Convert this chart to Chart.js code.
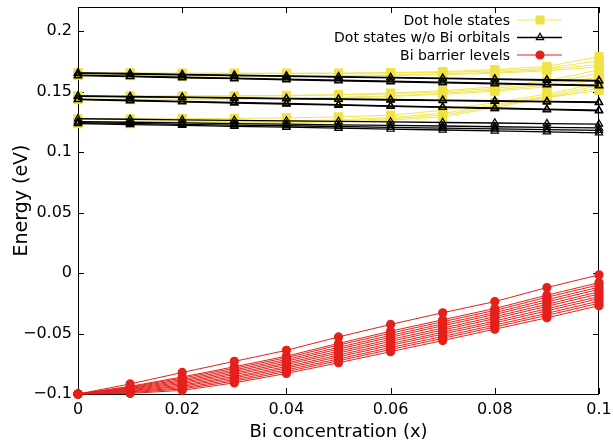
<!DOCTYPE html>
<html>
<head>
<meta charset="utf-8">
<script src="https://cdn.jsdelivr.net/npm/chart.js@4/dist/chart.umd.min.js"></script>
<style>
html,body{margin:0;padding:0;background:#fff;}
#wrap{position:relative;width:613px;height:444px;}
</style>
</head>
<body>
<div id="wrap"><canvas id="c" width="613" height="444"></canvas></div>
<script>
// ---- data ----
const xValues = [0, 0.01, 0.02, 0.03, 0.04, 0.05, 0.06, 0.07, 0.08, 0.09, 0.1];
const xTickValues = [0, 0.02, 0.04, 0.06, 0.08, 0.1];
const xTickLabels = ["0", "0.02", "0.04", "0.06", "0.08", "0.1"];
const yTickValues = [-0.1, -0.05, 0, 0.05, 0.1, 0.15, 0.2];
const yTickLabels = ["\u22120.1", "\u22120.05", "0", "0.05", "0.1", "0.15", "0.2"];
const seriesNames = ["Dot hole states", "Dot states w/o Bi orbitals", "Bi barrier levels"];

// Dot hole states (with Bi orbitals)
const holeStates = [
  [0.1656,0.1655,0.1654,0.1653,0.1653,0.1654,0.1658,0.1666,0.1683,0.1708,0.1790],
  [0.1652,0.1651,0.1650,0.1649,0.1649,0.1650,0.1653,0.1659,0.1671,0.1693,0.1755],
  [0.1636,0.1635,0.1634,0.1633,0.1633,0.1634,0.1638,0.1646,0.1660,0.1682,0.1725],
  [0.1632,0.1631,0.1630,0.1629,0.1629,0.1630,0.1633,0.1640,0.1653,0.1672,0.1705],
  [0.1465,0.1465,0.1465,0.1466,0.1469,0.1476,0.1488,0.1508,0.1540,0.1590,0.1680],
  [0.1462,0.1462,0.1462,0.1463,0.1466,0.1472,0.1482,0.1499,0.1527,0.1570,0.1650],
  [0.1438,0.1438,0.1439,0.1441,0.1445,0.1453,0.1466,0.1486,0.1514,0.1555,0.1620],
  [0.1434,0.1434,0.1435,0.1437,0.1441,0.1448,0.1460,0.1478,0.1504,0.1540,0.1595],
  [0.1276,0.1276,0.1277,0.1279,0.1283,0.1291,0.1306,0.1345,0.1410,0.1480,0.1570],
  [0.1252,0.1252,0.1253,0.1255,0.1259,0.1267,0.1287,0.1320,0.1390,0.1465,0.1550],
  [0.1243,0.1243,0.1244,0.1246,0.1250,0.1257,0.1276,0.1305,0.1380,0.1455,0.1530],
  [0.1236,0.1236,0.1237,0.1239,0.1242,0.1249,0.1266,0.1290,0.1370,0.1450,0.1510]
];

// Dot states without Bi orbitals
const noBiStates = [
  [0.1656,0.1650,0.1643,0.1637,0.1631,0.1625,0.1618,0.1612,0.1606,0.1599,0.1593],
  [0.1652,0.1646,0.1639,0.1633,0.1626,0.1620,0.1614,0.1607,0.1601,0.1594,0.1588],
  [0.1636,0.1628,0.1619,0.1611,0.1603,0.1595,0.1586,0.1578,0.1570,0.1561,0.1553],
  [0.1632,0.1624,0.1615,0.1607,0.1598,0.1590,0.1582,0.1573,0.1565,0.1556,0.1548],
  [0.1465,0.1460,0.1455,0.1450,0.1445,0.1440,0.1435,0.1430,0.1425,0.1420,0.1415],
  [0.1462,0.1457,0.1452,0.1446,0.1441,0.1436,0.1431,0.1426,0.1420,0.1415,0.1410],
  [0.1438,0.1429,0.1420,0.1411,0.1402,0.1393,0.1383,0.1374,0.1365,0.1356,0.1347],
  [0.1434,0.1425,0.1416,0.1406,0.1397,0.1388,0.1379,0.1370,0.1360,0.1351,0.1342],
  [0.1276,0.1272,0.1267,0.1263,0.1258,0.1254,0.1250,0.1245,0.1241,0.1236,0.1232],
  [0.1252,0.1247,0.1242,0.1236,0.1231,0.1226,0.1221,0.1216,0.1210,0.1205,0.1200],
  [0.1243,0.1237,0.1230,0.1224,0.1218,0.1212,0.1205,0.1199,0.1193,0.1186,0.1180],
  [0.1236,0.1228,0.1221,0.1213,0.1206,0.1198,0.1190,0.1183,0.1175,0.1168,0.1160]
];

// Bi barrier levels
const barrierLevels = [
  [-0.1,-0.0917,-0.0822,-0.0730,-0.0639,-0.0528,-0.0425,-0.0328,-0.0236,-0.0120,-0.0015],
  [-0.1,-0.0937,-0.0859,-0.0775,-0.0687,-0.0582,-0.0481,-0.0386,-0.0293,-0.0183,-0.0079],
  [-0.1,-0.0942,-0.0869,-0.0787,-0.0700,-0.0596,-0.0497,-0.0402,-0.0309,-0.0200,-0.0097],
  [-0.1,-0.0948,-0.0881,-0.0801,-0.0715,-0.0614,-0.0515,-0.0420,-0.0327,-0.0220,-0.0117],
  [-0.1,-0.0954,-0.0892,-0.0814,-0.0729,-0.0629,-0.0531,-0.0436,-0.0343,-0.0238,-0.0135],
  [-0.1,-0.0960,-0.0903,-0.0828,-0.0744,-0.0646,-0.0549,-0.0455,-0.0361,-0.0258,-0.0155],
  [-0.1,-0.0965,-0.0914,-0.0840,-0.0757,-0.0661,-0.0565,-0.0471,-0.0377,-0.0275,-0.0173],
  [-0.1,-0.0972,-0.0926,-0.0855,-0.0773,-0.0678,-0.0583,-0.0489,-0.0396,-0.0295,-0.0194],
  [-0.1,-0.0977,-0.0936,-0.0867,-0.0786,-0.0693,-0.0598,-0.0505,-0.0412,-0.0313,-0.0211],
  [-0.1,-0.0983,-0.0948,-0.0881,-0.0801,-0.0710,-0.0616,-0.0524,-0.0430,-0.0333,-0.0232],
  [-0.1,-0.0989,-0.0958,-0.0894,-0.0815,-0.0725,-0.0632,-0.0540,-0.0446,-0.0350,-0.0250],
  [-0.1,-0.0995,-0.0970,-0.0908,-0.0830,-0.0742,-0.0650,-0.0558,-0.0464,-0.0370,-0.0270]
];

// ---- styles ----
const FONT = "'DejaVu Sans', sans-serif";
const YELLOW = "#efe343";
const BLACK = "#000000";
const RED = "#e3211c";

const styles = [
  {color: YELLOW, lineColor: "rgba(239,227,67,0.9)", point: "rect", radius: 5.6, fill: YELLOW, lw: 1, order: 3},
  {color: BLACK, lineColor: BLACK, point: "triangle", radius: 4.2, fill: "rgba(0,0,0,0)", lw: 1.3, order: 2},
  {color: RED, lineColor: RED, point: "circle", radius: 4, fill: RED, lw: 1, order: 1}
];

function makeSets(groupIdx, rows) {
  const s = styles[groupIdx];
  return rows.map((row, i) => ({
    label: seriesNames[groupIdx],
    data: row.map((v, j) => ({x: xValues[j], y: v})),
    borderColor: s.lineColor,
    backgroundColor: s.fill,
    pointBorderColor: s.color,
    pointBackgroundColor: s.fill,
    pointStyle: s.point,
    pointRadius: s.radius,
    pointBorderWidth: 1.2,
    borderWidth: s.lw,
    tension: 0,
    clip: false,
    order: s.order
  }));
}

const datasets = [
  ...makeSets(0, holeStates),
  ...makeSets(1, noBiStates),
  ...makeSets(2, barrierLevels)
];

// frame + inward ticks
const framePlugin = {
  id: 'frame',
  beforeDatasetsDraw(chart) {
    const {ctx, chartArea: a, scales} = chart;
    ctx.save();
    ctx.strokeStyle = '#000';
    ctx.lineWidth = 1;
    ctx.strokeRect(Math.round(a.left) + 0.5, Math.round(a.top) + 0.5, Math.round(a.right - a.left) - 1, Math.round(a.bottom - a.top));
    const L = 6;
    ctx.beginPath();
    xTickValues.forEach(v => {
      const px = Math.round(scales.x.getPixelForValue(v)) + 0.5;
      ctx.moveTo(px, a.bottom); ctx.lineTo(px, a.bottom - L);
      ctx.moveTo(px, a.top); ctx.lineTo(px, a.top + L);
    });
    yTickValues.forEach(v => {
      const py = Math.round(scales.y.getPixelForValue(v)) + 0.5;
      ctx.moveTo(a.left, py); ctx.lineTo(a.left + L, py);
      ctx.moveTo(a.right, py); ctx.lineTo(a.right - L, py);
    });
    ctx.stroke();
    ctx.restore();
  }
};

// custom legend (text right aligned, sample to the right)
const legendPlugin = {
  id: 'gpLegend',
  afterDatasetsDraw(chart) {
    const {ctx} = chart;
    const textRight = 510, lineL = 517, lineR = 562, mx = 540;
    const rows = [20, 37.5, 55];
    ctx.save();
    ctx.font = "14px " + FONT;
    ctx.textAlign = 'right';
    ctx.textBaseline = 'middle';
    seriesNames.forEach((name, i) => {
      const s = styles[i];
      const y = rows[i];
      ctx.fillStyle = '#000';
      ctx.fillText(name, textRight, y + 1);
      ctx.strokeStyle = s.lineColor;
      ctx.lineWidth = s.lw;
      ctx.beginPath(); ctx.moveTo(lineL, y); ctx.lineTo(lineR, y); ctx.stroke();
      ctx.fillStyle = s.fill;
      ctx.strokeStyle = s.color;
      ctx.lineWidth = 1.2;
      Chart.helpers.drawPoint(ctx, {pointStyle: s.point, radius: s.radius, borderWidth: 1.2}, mx, y);
    });
    ctx.restore();
  }
};

new Chart(document.getElementById('c'), {
  type: 'line',
  data: {datasets},
  options: {
    responsive: false,
    animation: false,
    events: [],
    layout: {padding: {left: 0, right: 14, top: 7, bottom: 0}},
    plugins: {legend: {display: false}, tooltip: {enabled: false}},
    scales: {
      x: {
        type: 'linear', min: 0, max: 0.1,
        grid: {display: false, drawTicks: false},
        border: {display: false},
        afterBuildTicks: s => { s.ticks = xTickValues.map(v => ({value: v})); },
        afterFit: s => { s.height = 50; s.paddingLeft = 0; s.paddingRight = 0; },
        ticks: {
          padding: 6, color: '#000', maxRotation: 0, autoSkip: false,
          font: {family: FONT, size: 16},
          callback: v => { const i = xTickValues.findIndex(t => Math.abs(t - v) < 1e-9); return i >= 0 ? xTickLabels[i] : ''; }
        },
        title: {display: true, text: 'Bi concentration (x)', color: '#000', font: {family: FONT, size: 18}, padding: {top: 0, bottom: 1}}
      },
      y: {
        type: 'linear', min: -0.1, max: 0.22,
        grid: {display: false, drawTicks: false},
        border: {display: false},
        afterBuildTicks: s => { s.ticks = yTickValues.map(v => ({value: v})); },
        afterFit: s => { s.width = 78; s.paddingTop = 0; s.paddingBottom = 0; },
        ticks: {
          padding: 6, color: '#000', autoSkip: false,
          font: {family: FONT, size: 16},
          callback: v => { const i = yTickValues.findIndex(t => Math.abs(t - v) < 1e-9); return i >= 0 ? yTickLabels[i] : ''; }
        },
        title: {display: true, text: 'Energy (eV)', color: '#000', font: {family: FONT, size: 19}, padding: {top: 11, bottom: 0}}
      }
    }
  },
  plugins: [framePlugin, legendPlugin]
});
</script>
</body>
</html>
